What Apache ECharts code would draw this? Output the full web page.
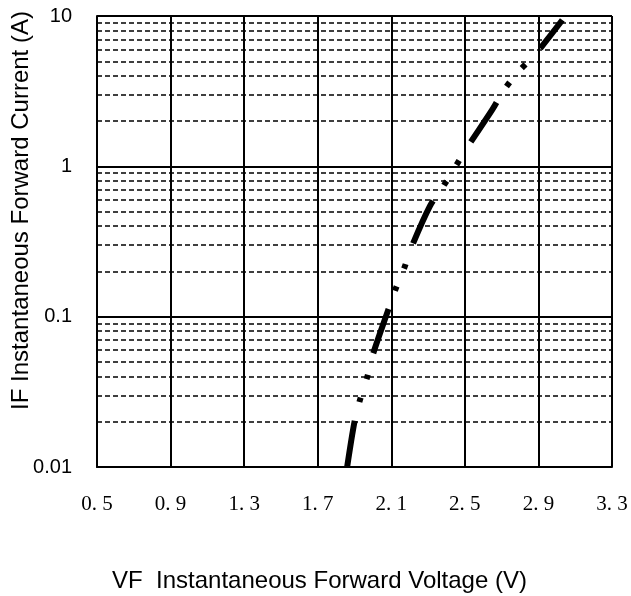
<!DOCTYPE html>
<html>
<head>
<meta charset="utf-8">
<script src="https://cdn.jsdelivr.net/npm/echarts@6/dist/echarts.min.js"></script>
<style>
html,body{margin:0;padding:0;background:#fff;}
#chart{width:631px;height:596px;}
</style>
</head>
<body>
<div id="chart"></div>
<script>
// Forward voltage (V) and forward current (A)
const voltage = [1.86, 1.90, 1.93, 1.97, 2.00, 2.08, 2.12, 2.17, 2.21, 2.31, 2.38, 2.45, 2.51, 2.65, 2.71, 2.79, 2.88, 3.03];
const current = [0.010, 0.020, 0.028, 0.040, 0.056, 0.108, 0.149, 0.210, 0.290, 0.544, 0.728, 1.00, 1.32, 2.39, 3.18, 4.25, 5.50, 9.40];
// minor (dashed) horizontal grid values
const minorGrid = [0.02,0.03,0.04,0.05,0.06,0.07,0.08,0.09,
                   0.2,0.3,0.4,0.5,0.6,0.7,0.8,0.9,
                   2,3,4,5,6,7,8,9];
const xMin = 0.5, xMax = 3.3, xStep = 0.4;
const yMin = 0.01, yMax = 10;
const xTitle = 'VF  Instantaneous Forward Voltage (V)';
const yTitle = 'IF Instantaneous Forward Current (A)';

const chart = echarts.init(document.getElementById('chart'), null, {renderer: 'canvas'});
const curve = voltage.map((v, i) => [v, current[i]]);

chart.setOption({
  animation: false,
  backgroundColor: '#fff',
  grid: {left: 97, right: 19, top: 16, bottom: 129, containLabel: false, outerBoundsMode: 'none'},
  xAxis: {
    type: 'value', min: xMin, max: xMax, interval: xStep,
    name: xTitle, nameLocation: 'middle', nameGap: 102, nameMoveOverlap: false,
    nameTextStyle: {fontFamily: 'Liberation Sans, Arial', fontSize: 24, color: '#000', padding: [0, 70, 0, 0]},
    axisLine: {show: true, lineStyle: {color: '#000', width: 2}},
    axisTick: {show: false},
    axisLabel: {
      margin: 27, color: '#000', fontFamily: 'Liberation Serif', fontSize: 21,
      formatter: v => v.toFixed(1).replace('.', '. ')
    },
    splitLine: {show: true, lineStyle: {color: '#000', width: 2}}
  },
  yAxis: {
    type: 'log', logBase: 10, min: yMin, max: yMax,
    name: yTitle, nameLocation: 'middle', nameGap: 64, nameMoveOverlap: false,
    nameTextStyle: {fontFamily: 'Liberation Sans, Arial', fontSize: 24, color: '#000', padding: [0, 0, 0, 62]},
    axisLine: {show: true, lineStyle: {color: '#000', width: 2}},
    axisTick: {show: false},
    axisLabel: {
      margin: 25, color: '#000', fontFamily: 'Liberation Sans, Arial', fontSize: 20,
      formatter: v => String(+v.toPrecision(3))
    },
    splitLine: {show: true, lineStyle: {color: '#000', width: 2}},
    minorSplitLine: {show: false}
  },
  series: [
    {
      type: 'line', data: [], z: 1, silent: true,
      markLine: {
        silent: true, symbol: ['none', 'none'],
        label: {show: false},
        lineStyle: {color: '#000', width: 1.5, type: [5, 3]},
        emphasis: {disabled: true},
        data: minorGrid.map(v => ({yAxis: v}))
      }
    },
    {
      type: 'line', data: curve, z: 5, smooth: 0.3, symbol: 'none', silent: true,
      lineStyle: {color: '#000', width: 6, type: [47, 19, 5, 19, 5, 22], cap: 'butt'}
    }
  ]
});
</script>
</body>
</html>
